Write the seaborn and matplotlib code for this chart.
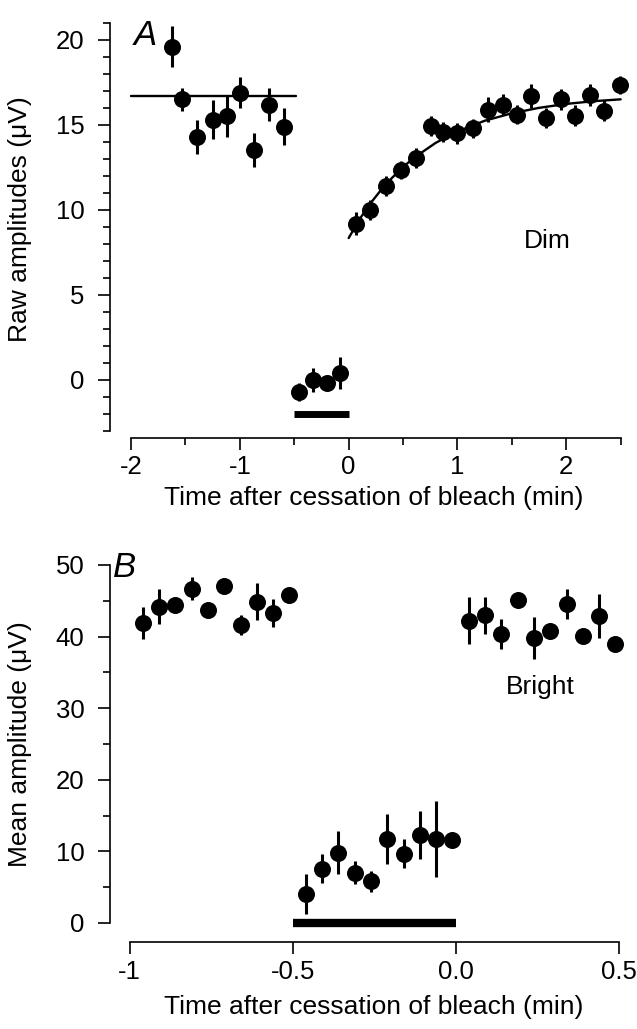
import matplotlib
matplotlib.use("Agg")
import matplotlib.pyplot as plt
import seaborn as sns
from matplotlib.ticker import FixedLocator, FixedFormatter

# ---------------- Panel A (Dim) ----------------
a_pre_t = [-1.625, -1.53, -1.39, -1.25, -1.12, -0.995, -0.866, -0.728, -0.59]
a_pre_v = [19.6, 16.5, 14.3, 15.3, 15.5, 16.9, 13.5, 16.2, 14.9]
a_pre_err = [1.2, 0.7, 1.0, 1.15, 1.2, 0.9, 1.0, 0.95, 1.1]

a_bleach_t = [-0.46, -0.33, -0.20, -0.08]
a_bleach_v = [-0.7, 0.0, -0.15, 0.4]
a_bleach_err = [0.55, 0.7, 0.4, 0.95]

a_rec_t = [0.065, 0.20, 0.34, 0.48, 0.62, 0.76, 0.87, 1.00, 1.14, 1.28,
           1.42, 1.55, 1.68, 1.81, 1.95, 2.08, 2.22, 2.35, 2.49]
a_rec_v = [9.2, 10.0, 11.4, 12.35, 13.05, 14.95, 14.6, 14.5, 14.8, 15.9,
           16.2, 15.6, 16.7, 15.4, 16.5, 15.55, 16.75, 15.85, 17.35]
a_rec_err = [0.7, 0.6, 0.6, 0.55, 0.6, 0.6, 0.6, 0.6, 0.55, 0.75,
             0.6, 0.55, 0.7, 0.6, 0.6, 0.6, 0.65, 0.6, 0.55]

a_base_t = [-2.0, -0.48]
a_base_v = [16.7, 16.7]

a_fit_t = [0.0, 0.1, 0.2, 0.3, 0.4, 0.5, 0.6, 0.8, 1.0, 1.25, 1.5, 1.75, 2.0, 2.25, 2.5]
a_fit_v = [8.35, 9.46, 10.39, 11.2, 11.9, 12.53, 13.07, 13.95, 14.62, 15.25,
           15.69, 16.01, 16.24, 16.40, 16.51]

a_bar_t = [-0.5, 0.0]
a_bar_v = [-2.0, -2.0]

a_xticks = [-2, -1, 0, 1, 2]
a_xticklabels = ["-2", "-1", "0", "1", "2"]
a_yticks = [0, 5, 10, 15, 20]
a_yticklabels = ["0", "5", "10", "15", "20"]

# ---------------- Panel B (Bright) ----------------
b_pre_t = [-0.96, -0.91, -0.86, -0.81, -0.76, -0.71, -0.66, -0.61, -0.56, -0.51]
b_pre_v = [41.9, 44.2, 44.4, 46.7, 43.7, 47.0, 41.6, 44.9, 43.3, 45.8]
b_pre_err = [2.3, 2.5, 0.5, 1.6, 0.5, 0.5, 1.4, 2.6, 2.0, 0.5]

b_bleach_t = [-0.46, -0.41, -0.36, -0.31, -0.26, -0.21, -0.16, -0.11, -0.06, -0.01]
b_bleach_v = [4.05, 7.6, 9.8, 7.0, 5.8, 11.7, 9.7, 12.3, 11.7, 11.6]
b_bleach_err = [2.8, 2.0, 3.0, 1.6, 1.5, 3.5, 2.0, 3.4, 5.3, 1.0]

b_post_t = [0.04, 0.09, 0.14, 0.19, 0.24, 0.29, 0.34, 0.39, 0.44, 0.49]
b_post_v = [42.2, 43.0, 40.4, 45.1, 39.8, 40.8, 44.6, 40.1, 42.9, 39.0]
b_post_err = [3.3, 2.6, 2.1, 0.5, 2.9, 0.5, 2.1, 0.5, 3.1, 0.5]

b_bar_t = [-0.5, 0.0]
b_bar_v = [0.0, 0.0]

b_xticks = [-1, -0.5, 0.0, 0.5]
b_xticklabels = ["-1", "-0.5", "0.0", "0.5"]
b_yticks = [0, 10, 20, 30, 40, 50]
b_yticklabels = ["0", "10", "20", "30", "40", "50"]

x_label = "Time after cessation of bleach (min)"
a_ylabel = "Raw amplitudes (\u03bcV)"
b_ylabel = "Mean amplitude (\u03bcV)"

# ---------------- style ----------------
sns.set_style("ticks")
plt.rcParams["font.family"] = ["Liberation Sans", "DejaVu Sans"]
plt.rcParams["axes.unicode_minus"] = False
plt.rcParams["text.color"] = "black"
plt.rcParams["axes.labelcolor"] = "black"
plt.rcParams["xtick.color"] = "black"
plt.rcParams["ytick.color"] = "black"

W, H = 637, 1029
fig = plt.figure(figsize=(W / 100, H / 100), dpi=100)

LAB = 19
TICK = 18.5
MS = 150


def px_axes(l, t, r, b):
    return fig.add_axes([l / W, 1 - b / H, (r - l) / W, (b - t) / H])


def style_axes(ax, xticks, xlabels, xminor, yticks, ylabels, yminor, outward):
    for s in ["top", "right"]:
        ax.spines[s].set_visible(False)
    for s in ["left", "bottom"]:
        ax.spines[s].set_linewidth(1.2)
        ax.spines[s].set_color("black")
    ax.spines["bottom"].set_position(("outward", outward))
    ax.spines["bottom"].set_bounds(min(xticks + xminor), max(xticks + xminor))
    ax.xaxis.set_major_locator(FixedLocator(xticks))
    ax.xaxis.set_major_formatter(FixedFormatter(xlabels))
    ax.xaxis.set_minor_locator(FixedLocator(xminor))
    ax.yaxis.set_major_locator(FixedLocator(yticks))
    ax.yaxis.set_major_formatter(FixedFormatter(ylabels))
    ax.yaxis.set_minor_locator(FixedLocator(yminor))
    ax.tick_params(which="major", length=8.5, width=1.2, color="black",
                   labelsize=TICK, labelcolor="black", direction="out")
    ax.tick_params(which="minor", length=5, width=1.2, color="black", direction="out")
    ax.tick_params(axis="y", which="major", pad=10)
    ax.tick_params(axis="x", which="major", pad=4)


def draw_points(ax, t, v, err, size):
    ax.errorbar(t, v, yerr=err, fmt="none", ecolor="black", elinewidth=2.2,
                capsize=0, zorder=2, clip_on=False)
    sns.scatterplot(x=t, y=v, ax=ax, color="black", s=size, linewidth=0,
                    edgecolor="black", zorder=3, clip_on=False, legend=False)


# ---------------- Panel A ----------------
axA = px_axes(110, 23, 627, 431)
axA.set_xlim(-2.1935, 2.558)
axA.set_ylim(-3, 21)
style_axes(axA, a_xticks, a_xticklabels, [-1.5, -0.5, 0.5, 1.5, 2.5],
           a_yticks, a_yticklabels,
           [v for v in range(-3, 22) if v % 5 != 0], 5)

sns.lineplot(x=a_base_t, y=a_base_v, ax=axA, color="black", linewidth=1.7,
             estimator=None, sort=False)
sns.lineplot(x=a_fit_t, y=a_fit_v, ax=axA, color="black", linewidth=1.7,
             estimator=None, sort=False)
sns.lineplot(x=a_bar_t, y=a_bar_v, ax=axA, color="black", linewidth=5,
             estimator=None, sort=False, solid_capstyle="butt")
draw_points(axA, a_pre_t, a_pre_v, a_pre_err, MS)
draw_points(axA, a_bleach_t, a_bleach_v, a_bleach_err, MS)
draw_points(axA, a_rec_t, a_rec_v, a_rec_err, MS)

axA.text(-1.98, 19.7, "A", fontsize=25, style="italic", ha="left",
         va="baseline", color="black")
axA.text(1.83, 8.2, "Dim", fontsize=LAB, ha="center", va="center", color="black")
axA.set_xlabel(x_label, fontsize=LAB, color="black")
axA.set_ylabel(a_ylabel, fontsize=LAB, color="black")
axA.xaxis.set_label_coords(0.51, -0.135)
axA.yaxis.set_label_coords(-0.150, 0.52)

# ---------------- Panel B ----------------
axB = px_axes(110, 565, 627, 923)
axB.set_xlim(-1.0604, 0.5255)
axB.set_ylim(0, 50)
style_axes(axB, b_xticks, b_xticklabels, [],
           b_yticks, b_yticklabels, [5, 15, 25, 35, 45], 14)

sns.lineplot(x=b_bar_t, y=b_bar_v, ax=axB, color="black", linewidth=6,
             estimator=None, sort=False, solid_capstyle="butt", clip_on=False)
draw_points(axB, b_pre_t, b_pre_v, b_pre_err, MS)
draw_points(axB, b_bleach_t, b_bleach_v, b_bleach_err, MS)
draw_points(axB, b_post_t, b_post_v, b_post_err, MS)

axB.text(-1.052, 48.3, "B", fontsize=25, style="italic", ha="left",
         va="baseline", color="black")
axB.text(0.26, 33.0, "Bright", fontsize=LAB, ha="center", va="center", color="black")
axB.set_xlabel(x_label, fontsize=LAB, color="black")
axB.set_ylabel(b_ylabel, fontsize=LAB, color="black")
axB.xaxis.set_label_coords(0.51, -0.20)
axB.yaxis.set_label_coords(-0.150, 0.5)

fig.savefig("out.png", dpi=100)
